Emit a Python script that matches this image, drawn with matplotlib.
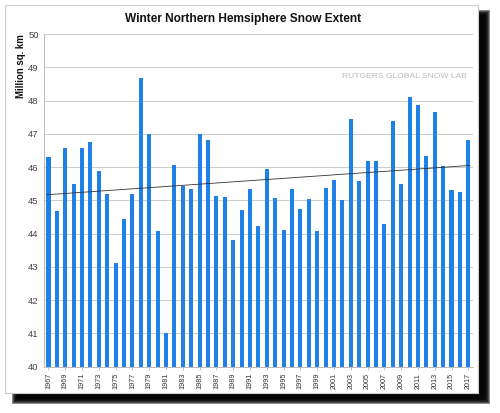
import numpy as np
import matplotlib
matplotlib.use("Agg")
import matplotlib.pyplot as plt
from matplotlib.patches import Rectangle

# winter snow extent, million sq. km
years = list(range(1967, 2018))
extent = [46.30, 44.68, 46.56, 45.48, 46.57, 46.76, 45.88, 45.20, 43.12, 44.44,
          45.20, 48.67, 46.98, 44.08, 41.02, 46.07, 45.42, 45.33, 46.98, 46.82,
          45.12, 45.09, 43.80, 44.70, 45.33, 44.24, 45.94, 45.06, 44.12, 45.34,
          44.75, 45.04, 44.07, 45.36, 45.62, 45.01, 47.44, 45.59, 46.17, 46.17,
          44.30, 47.40, 45.48, 48.10, 47.86, 46.34, 47.66, 46.02, 45.31, 45.25,
          46.82]
tick_years = years[::2]

W, H = 500, 413
fig = plt.figure(figsize=(W / 100, H / 100), dpi=100)
fig.patch.set_facecolor("white")

def px(x0, y0, x1, y1):
    # pixel box -> figure fraction (left, bottom, width, height)
    return (x0 / W, 1 - y1 / H, (x1 - x0) / W, (y1 - y0) / H)

# soft drop shadow behind the white panel
for i in range(6):
    l, b, w, h = px(14 - i + 3, 12 - i + 3, 488 + i - 3, 402 + i - 3)
    fig.patches.append(Rectangle((l, b), w, h, transform=fig.transFigure,
                                 facecolor="black", edgecolor="none",
                                 alpha=0.45, zorder=0))
l, b, w, h = px(5, 5, 478, 393)
fig.patches.append(Rectangle((l, b), w, h, transform=fig.transFigure,
                             facecolor="white", edgecolor="#cccccc",
                             linewidth=0.8, zorder=1))

ax = fig.add_axes(px(44.3, 34, 472.5, 366.7))
ax.set_facecolor("none")
ax.set_zorder(2)

ax.bar(years, extent, width=0.48, color="#1f80e8", zorder=2)

# linear trend line
coef = np.polyfit(years, extent, 1)
yrs = np.array([years[0] - 0.2, years[-1] + 0.2])
ax.plot(yrs, np.polyval(coef, yrs), color="#333333", linewidth=0.6, zorder=3)

ax.set_xlim(1966.5, 2017.5)
ax.set_ylim(40, 50)
ax.set_yticks(range(40, 51))
ax.set_xticks(tick_years)
ax.set_xticklabels([str(y) for y in tick_years], rotation=90, fontsize=5.2,
                   color="#333333", family="Liberation Sans")
ax.tick_params(axis="y", labelsize=6.8, colors="#444444", length=0, pad=4)
ax.tick_params(axis="x", length=2, width=0.5, color="#aaaaaa", pad=2.5)
for lab in ax.get_yticklabels():
    lab.set_family("Liberation Sans")
ax.grid(axis="y", color="#cccccc", linewidth=0.7, zorder=1)
ax.set_axisbelow(True)
for side in ["top", "right"]:
    ax.spines[side].set_visible(False)
ax.spines["left"].set_color("#bbbbbb")
ax.spines["bottom"].set_color("#bbbbbb")
ax.spines["left"].set_linewidth(0.7)
ax.spines["bottom"].set_linewidth(0.7)

fig.text(243.5 / W, 1 - 19 / H, "Winter Northern Hemsiphere Snow Extent",
         ha="center", va="center", fontsize=8.6, fontweight="bold",
         family="Liberation Sans", color="#111111", zorder=5)
fig.text(20.7 / W, 1 - 66 / H, "Million sq. km", rotation=90,
         ha="center", va="center", fontsize=6.9, fontweight="bold",
         family="Liberation Sans", color="#111111", zorder=5)
fig.text(466.7 / W, 1 - 76 / H, "RUTGERS GLOBAL SNOW LAB",
         ha="right", va="center", fontsize=6.1, family="Liberation Sans",
         color="#bbbbbb", zorder=5)

fig.savefig("out.png", dpi=100)
